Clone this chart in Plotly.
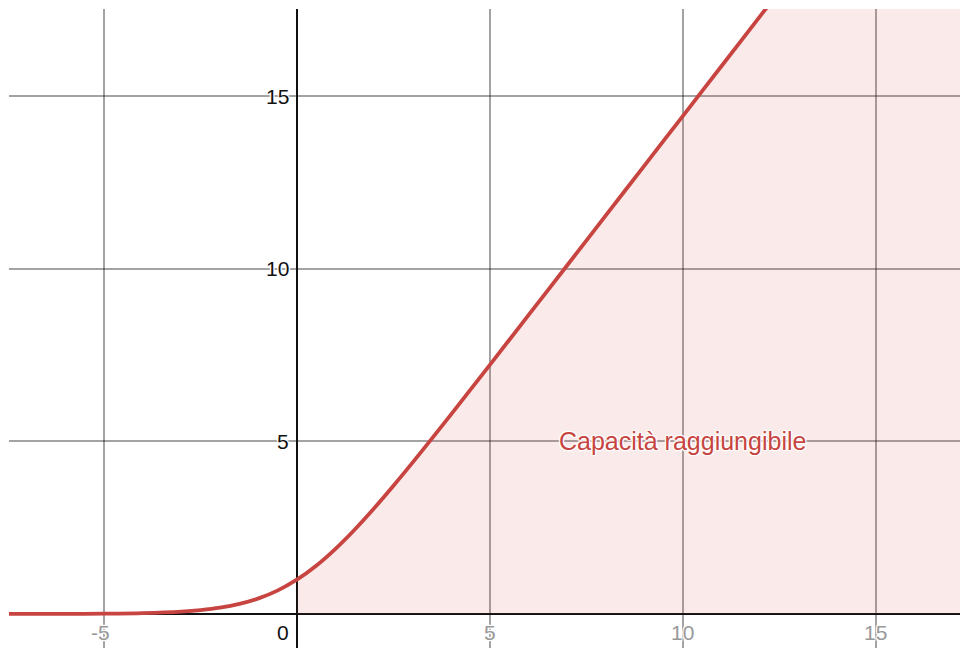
import plotly.graph_objects as go

# Achievable capacity curve
cap_x = [-7.5, -6.0, -5.0, -4.0, -3.0, -2.5, -2.0, -1.5, -1.0, -0.5, 0.0,
         0.5, 1.0, 1.5, 2.0, 2.5, 3.0, 3.5, 4.0, 5.0, 6.0, 7.0, 8.0, 9.0,
         10.0, 11.0, 12.0, 13.0]
cap_y = [0.001, 0.004, 0.010, 0.026, 0.070, 0.114, 0.183, 0.291, 0.452, 0.684, 1.000,
         1.405, 1.895, 2.455, 3.069, 3.721, 4.398, 5.092, 5.797, 7.223, 8.660, 10.100, 11.542, 12.985,
         14.427, 15.870, 17.313, 18.756]

x_ticks = [-5, 5, 10, 15]
y_ticks = [5, 10, 15]
x_range = [-7.47, 17.18]
y_range = [-0.985, 17.52]

region_label = "Capacità raggiungibile"

RED = "#c74440"
FONT = "Liberation Sans, Arial, sans-serif"
HALO = ("1px 1px 1px white, -1px -1px 1px white, 1px -1px 1px white, "
        "-1px 1px 1px white, 0 0 2px white")

fig = go.Figure()

# shaded achievable region: x >= 0, below the curve, extended to the right edge
fx = [x for x in cap_x if x >= 0]
fy = [y for x, y in zip(cap_x, cap_y) if x >= 0]
fx.append(x_range[1] + 1)
fy.append(fy[-1])
fig.add_trace(go.Scatter(
    x=fx, y=fy, mode="lines", fill="tozeroy",
    fillcolor="rgba(205,70,64,0.11)", line=dict(width=0),
    hoverinfo="skip", showlegend=False,
))

# capacity curve
fig.add_trace(go.Scatter(
    x=cap_x, y=cap_y, mode="lines",
    line=dict(color=RED, width=3.8, shape="spline", smoothing=0.8),
    showlegend=False,
))

annotations = []
for t in x_ticks:
    annotations.append(dict(
        x=t, y=0, xref="x", yref="y", text=str(t), showarrow=False,
        xanchor="center", yanchor="top", yshift=-5,
        xshift=-4 if t < 0 else 0,
        font=dict(family=FONT, size=21, color="#999999", shadow=HALO),
    ))
for t in y_ticks:
    annotations.append(dict(
        x=0, y=t, xref="x", yref="y", text=str(t), showarrow=False,
        xanchor="right", yanchor="middle", xshift=-6,
        font=dict(family=FONT, size=21, color="#111111", shadow=HALO),
    ))
annotations.append(dict(
    x=0, y=0, xref="x", yref="y", text="0", showarrow=False,
    xanchor="right", yanchor="top", xshift=-6, yshift=-5,
    font=dict(family=FONT, size=21, color="#111111", shadow=HALO),
))
annotations.append(dict(
    x=10, y=5, xref="x", yref="y", text=region_label, showarrow=False,
    xanchor="center", yanchor="middle",
    font=dict(family=FONT, size=25, color=RED, shadow=HALO),
))

fig.update_layout(
    width=960, height=648,
    margin=dict(l=9, r=0, t=9, b=0),
    paper_bgcolor="white", plot_bgcolor="white",
    annotations=annotations,
    xaxis=dict(
        range=x_range, tickvals=[-5, 0, 5, 10, 15], showticklabels=False,
        showgrid=True, gridcolor="rgba(0,0,0,0.36)", gridwidth=1.5,
        zeroline=True, zerolinecolor="#111111", zerolinewidth=2.2,
        showline=False, fixedrange=True,
    ),
    yaxis=dict(
        range=y_range, tickvals=[0, 5, 10, 15], showticklabels=False,
        showgrid=True, gridcolor="rgba(0,0,0,0.36)", gridwidth=1.5,
        zeroline=True, zerolinecolor="#111111", zerolinewidth=2.2,
        showline=False, fixedrange=True,
    ),
)

fig.write_html("out.html")
